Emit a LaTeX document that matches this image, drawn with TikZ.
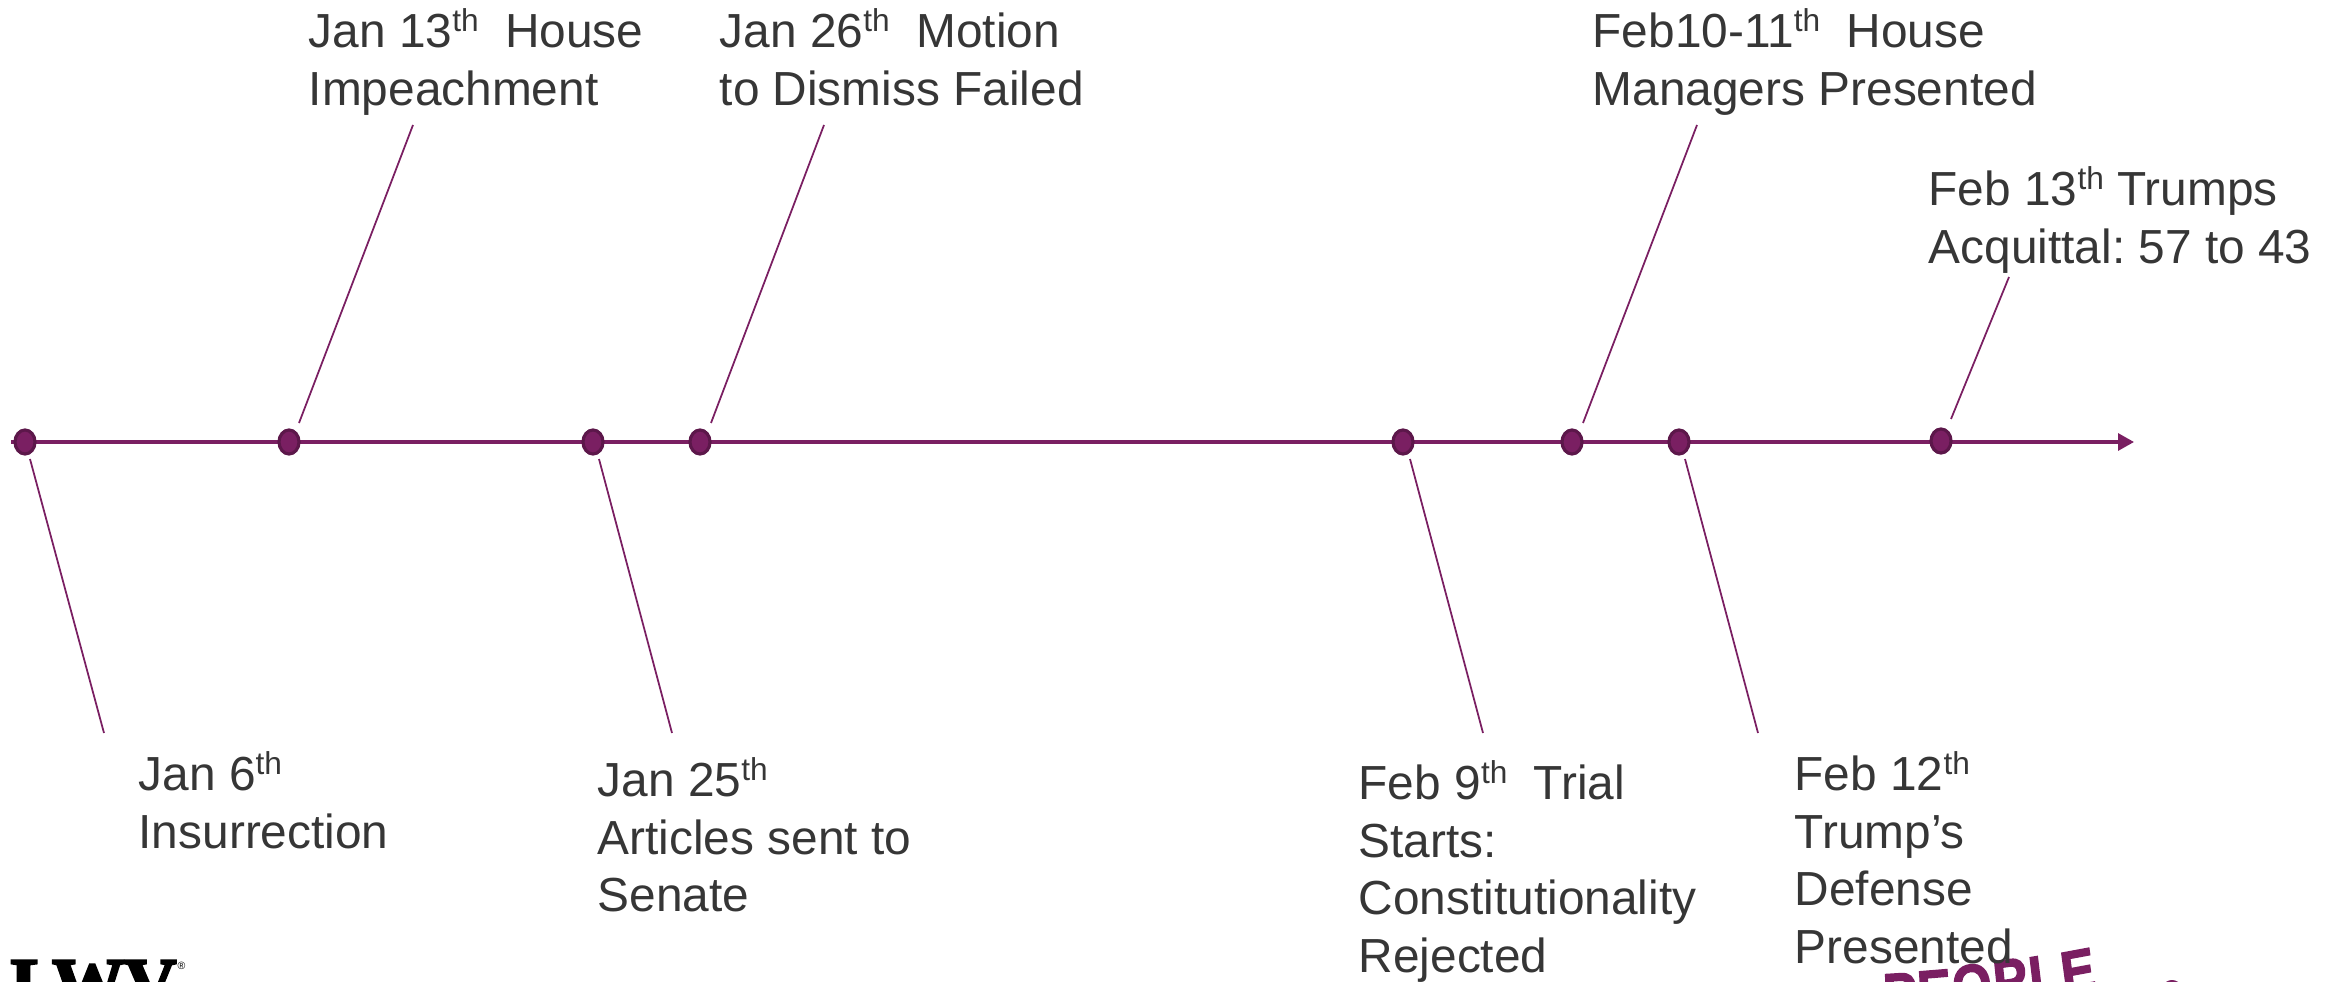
\documentclass[tikz,border=0pt]{standalone}
\usepackage{fontspec}
\setmainfont{Liberation Sans}
\usetikzlibrary{arrows.meta,shapes.geometric}
\definecolor{lwvpurple}{HTML}{7A1F62}
\definecolor{lwvdark}{HTML}{5C174A}
\definecolor{lwvtext}{HTML}{363636}
\newfontfamily\peoplefont[FakeBold=2.5]{Liberation Sans Bold}
\newfontfamily\lwvfont[FakeBold=3.5]{Liberation Serif Bold}
\tikzset{
  event/.style={font=\frenchspacing\fontsize{13.6}{16.4}\selectfont,text=lwvtext,anchor=north west,align=left,inner sep=0pt},
  dot/.style={ellipse,draw=lwvdark,line width=0.9pt,fill=lwvpurple,minimum width=0.2cm,minimum height=0.24cm,inner sep=0pt},
  leader/.style={draw=lwvpurple,line width=0.5pt},
  peopleletter/.style={font=\fontsize{17}{17}\selectfont\peoplefont,text=lwvpurple,xscale=0.85,anchor=north,inner sep=0pt},
}
\newcommand{\tsup}[1]{\raisebox{0.33em}{\fontsize{9}{9}\selectfont #1}}
\begin{document}
\begin{tikzpicture}[x=0.01cm,y=-0.01cm]
    \useasboundingbox (0,0) rectangle (2336,982);
    \clip (0,0) rectangle (2336,982);

    % Logos
    \node[font=\fontsize{20.5}{20.5}\selectfont\lwvfont,anchor=north west,inner sep=0pt] (lwv) at (10,960) {LWV};
    \node[font=\fontsize{3}{3}\selectfont,anchor=north west,inner sep=0pt] (lwvmark) at (177,961) {®};
    \foreach \name/\letter/\x/\y/\r in {pa/P/1899/973/3, pb/E/1933/970/4, pc/O/1970/964/6, pd/P/2008/959/7, pe/L/2042/955/8, pf/E/2075/950/9}
      \node[peopleletter,rotate=\r] (\name) at (\x,\y) {\letter};
    \fill[lwvpurple] (2172,1000) ellipse (14 and 20);

    % Axis
    \coordinate (start) at (11,442);
    \coordinate (end) at (2134,442);
    \draw[draw=lwvpurple,line width=0.9pt,-{Triangle[length=0.16cm,width=0.17cm]}] (start) -- (end);

    % Dots
    \foreach \name/\x/\y in {a/25/442, b/289/442, c/593/442, d/700/442, e/1403/442, f/1572/442, g/1679/442, h/1941/441}
      \node[dot] (\name) at (\x,\y) {};

    % Leaders
    \foreach \name/\xa/\ya/\xb/\yb in {
        a/30/459/104/733, b/299/423/413/125, c/599/459/672/733, d/711/423/824/125,
        e/1410/459/1483/733, f/1583/423/1697/125, g/1685/459/1758/733, h/1951/419/2009/277} {
      \coordinate (\name1) at (\xa,\ya);
      \coordinate (\name2) at (\xb,\yb);
      \draw[leader] (\name1) -- (\name2);
    }

    % Labels
    \node[event] (jan6) at (138,751) {Jan 6\tsup{th}\\Insurrection};
    \node[event] (jan13) at (308,8) {Jan 13\tsup{th}~~House\\Impeachment};
    \node[event] (jan25) at (597,757) {Jan 25\tsup{th}\\Articles sent to\\Senate};
    \node[event] (jan26) at (719,8) {Jan 26\tsup{th}~~Motion\\to Dismiss Failed};
    \node[event] (feb9) at (1358,760) {Feb 9\tsup{th}~~Trial\\Starts:\\Constitutionality\\Rejected};
    \node[event] (feb10) at (1592,8) {Feb10-11\tsup{th}~~House\\Managers Presented};
    \node[event] (feb12) at (1794,751) {Feb 12\tsup{th}\\Trump’s\\Defense\\Presented};
    \node[event] (feb13) at (1928,166) {Feb 13\tsup{th} Trumps\\Acquittal: 57 to 43};
\end{tikzpicture}
\end{document}
